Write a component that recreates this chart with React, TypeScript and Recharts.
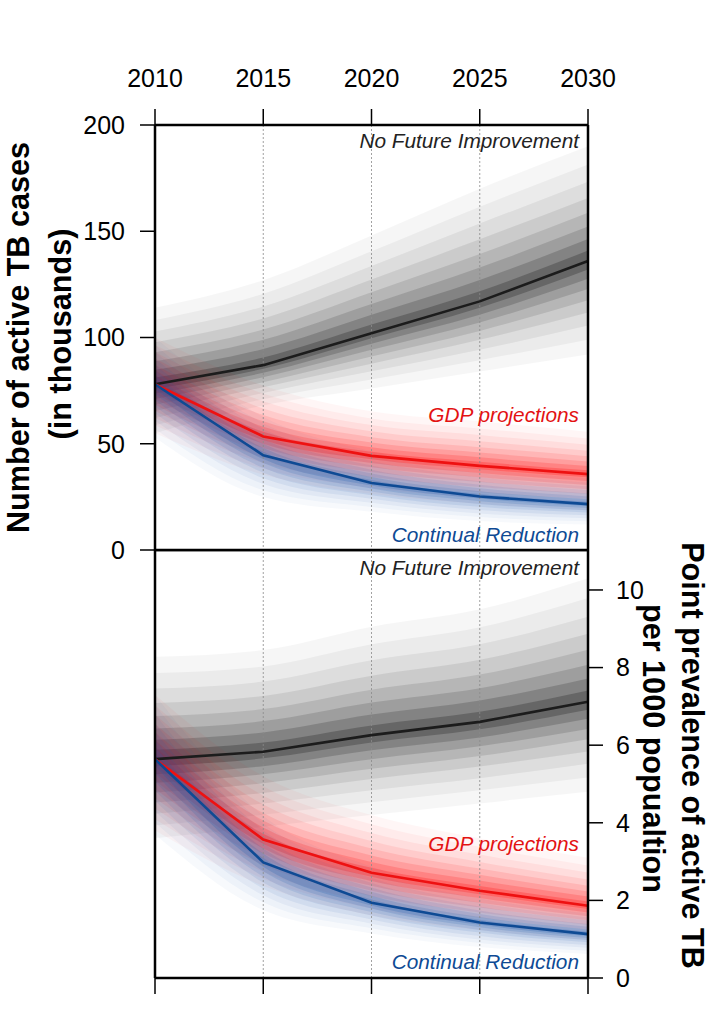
import React from 'react';
import { ComposedChart, Area, Line, XAxis, YAxis, ReferenceLine } from 'recharts';

const years = [2010, 2015, 2020, 2025, 2030];
const xTicks = [2010, 2015, 2020, 2025, 2030];
const gridYears = [2015, 2020, 2025];
const casesTicks = [0, 50, 100, 150, 200];
const prevTicks = [0, 2, 4, 6, 8, 10];

// ---------- Top panel: number of active TB cases (thousands) ----------
// bands listed from outermost to innermost
const casesNoImpMed = [78, 87, 102, 117, 136];
const casesNoImpUp = [
  [114, 127, 148, 170, 190],
  [108.2, 120.6, 140.6, 161.5, 181.4],
  [102.8, 114.6, 133.7, 153.6, 173.3],
  [97.8, 109, 127.3, 146.2, 165.7],
  [93.1, 103.8, 121.3, 139.3, 158.7],
  [88.8, 99, 115.8, 132.9, 152.2],
  [84.8, 94.6, 110.7, 127.1, 146.3],
  [81.2, 90.6, 106.1, 121.8, 140.9],
];
const casesNoImpLo = [
  [55, 68, 76, 84, 92],
  [58.7, 71, 80.2, 89.3, 99],
  [62.1, 73.9, 84.1, 94.2, 105.6],
  [65.4, 76.6, 87.7, 98.9, 111.8],
  [68.3, 79, 91.1, 103.1, 117.5],
  [71.1, 81.3, 94.2, 107.1, 122.8],
  [73.6, 83.4, 97.1, 110.7, 127.6],
  [75.9, 85.3, 99.7, 114, 132],
];
const casesGdpMed = [78, 53.4, 44.3, 39.6, 35.7];
const casesGdpUp = [
  [100, 77.4, 65.3, 60.6, 55.7],
  [96.5, 73.6, 61.9, 57.2, 52.5],
  [93.2, 70, 58.8, 54.1, 49.5],
  [90.1, 66.6, 55.9, 51.2, 46.7],
  [87.2, 63.5, 53.1, 48.4, 44.1],
  [84.6, 60.6, 50.6, 45.9, 41.7],
  [82.2, 58, 48.3, 43.6, 39.5],
  [80, 55.6, 46.2, 41.5, 37.5],
];
const casesGdpLo = [
  [55, 35.4, 26.3, 21.6, 18.7],
  [58.7, 38.3, 29.2, 24.5, 21.4],
  [62.1, 41, 31.9, 27.2, 24],
  [65.4, 43.5, 34.4, 29.7, 26.4],
  [68.3, 45.8, 36.7, 32, 28.6],
  [71.1, 48, 38.9, 34.2, 30.6],
  [73.6, 50, 40.9, 36.2, 32.5],
  [75.9, 51.8, 42.7, 38, 34.2],
];
const casesContMed = [78, 44.6, 31.5, 25.2, 21.6];
const casesContUp = [
  [100, 62.6, 46.5, 38.2, 33.6],
  [96.5, 59.7, 44.1, 36.1, 31.7],
  [93.2, 57, 41.9, 34.2, 29.9],
  [90.1, 54.5, 39.8, 32.4, 28.2],
  [87.2, 52.2, 37.8, 30.7, 26.6],
  [84.6, 50, 36, 29.1, 25.2],
  [82.2, 48, 34.4, 27.7, 23.9],
  [80, 46.2, 32.9, 26.4, 22.7],
];
const casesContLo = [
  [53, 25, 18, 13.6, 12],
  [57, 28.1, 20.2, 15.5, 13.5],
  [60.8, 31.1, 22.2, 17.2, 15],
  [64.3, 33.8, 24.1, 18.8, 16.3],
  [67.5, 36.4, 25.8, 20.3, 17.6],
  [70.5, 38.7, 27.5, 21.7, 18.7],
  [73.3, 40.9, 28.9, 23, 19.8],
  [75.8, 42.8, 30.3, 24.2, 20.7],
];

// ---------- Bottom panel: point prevalence per 1000 population ----------
const prevNoImpMed = [5.64, 5.83, 6.26, 6.6, 7.12];
const prevNoImpUp = [
  [8.28, 8.45, 9.05, 9.5, 10.3],
  [7.86, 8.03, 8.6, 9.04, 9.79],
  [7.46, 7.64, 8.19, 8.6, 9.31],
  [7.09, 7.27, 7.79, 8.2, 8.87],
  [6.75, 6.93, 7.43, 7.82, 8.46],
  [6.43, 6.62, 7.1, 7.47, 8.07],
  [6.14, 6.33, 6.79, 7.15, 7.72],
  [5.88, 6.07, 6.51, 6.86, 7.41],
];
const prevNoImpLo = [
  [3.6, 3.9, 4.2, 4.5, 4.8],
  [3.93, 4.21, 4.53, 4.84, 5.17],
  [4.23, 4.5, 4.84, 5.15, 5.52],
  [4.52, 4.77, 5.13, 5.45, 5.84],
  [4.78, 5.02, 5.39, 5.72, 6.15],
  [5.03, 5.25, 5.64, 5.97, 6.42],
  [5.25, 5.46, 5.87, 6.2, 6.68],
  [5.46, 5.66, 6.07, 6.41, 6.91],
];
const prevGdpMed = [5.64, 3.57, 2.71, 2.25, 1.86];
const prevGdpUp = [
  [7.3, 5.2, 4.2, 3.6, 3.1],
  [7.03, 4.94, 3.96, 3.38, 2.9],
  [6.79, 4.7, 3.74, 3.18, 2.72],
  [6.55, 4.47, 3.53, 2.99, 2.54],
  [6.34, 4.25, 3.34, 2.82, 2.38],
  [6.14, 4.06, 3.16, 2.66, 2.23],
  [5.96, 3.88, 2.99, 2.51, 2.1],
  [5.79, 3.72, 2.84, 2.37, 1.97],
];
const prevGdpLo = [
  [3.8, 2.37, 1.61, 1.23, 0.97],
  [4.09, 2.56, 1.79, 1.39, 1.11],
  [4.37, 2.74, 1.95, 1.55, 1.25],
  [4.63, 2.91, 2.11, 1.69, 1.37],
  [4.87, 3.07, 2.25, 1.82, 1.49],
  [5.09, 3.21, 2.38, 1.94, 1.59],
  [5.29, 3.34, 2.5, 2.06, 1.69],
  [5.47, 3.46, 2.61, 2.16, 1.78],
];
const prevContMed = [5.64, 2.98, 1.94, 1.43, 1.13];
const prevContUp = [
  [7.3, 4.18, 2.87, 2.17, 1.76],
  [7.03, 3.99, 2.72, 2.05, 1.66],
  [6.79, 3.81, 2.58, 1.94, 1.56],
  [6.55, 3.64, 2.45, 1.84, 1.48],
  [6.34, 3.48, 2.33, 1.74, 1.39],
  [6.14, 3.34, 2.22, 1.65, 1.32],
  [5.96, 3.21, 2.12, 1.57, 1.25],
  [5.79, 3.09, 2.02, 1.5, 1.19],
];
const prevContLo = [
  [3.7, 1.75, 1.15, 0.8, 0.62],
  [4.01, 1.95, 1.28, 0.9, 0.7],
  [4.3, 2.13, 1.4, 0.99, 0.78],
  [4.57, 2.3, 1.51, 1.08, 0.85],
  [4.83, 2.46, 1.61, 1.17, 0.92],
  [5.06, 2.61, 1.7, 1.24, 0.98],
  [5.27, 2.75, 1.79, 1.31, 1.03],
  [5.47, 2.87, 1.87, 1.37, 1.08],
];

// ---------- styles ----------
const FONT = '"Liberation Sans", Arial, Helvetica, sans-serif';
const bandOpacity = [0.035, 0.045, 0.06, 0.08, 0.1, 0.13, 0.17, 0.22];
const scenarios = [
  { key: 'noimp', fill: '#000000', line: '#1c1c1c' },
  { key: 'gdp', fill: '#ff0000', line: '#ee1111' },
  { key: 'cont', fill: '#1c5cae', line: '#0e4a94' },
];

type Series = { key: string; med: number[]; up: number[][]; lo: number[][] };

function buildRows(series: Series[]) {
  return years.map((year, i) => {
    const r: any = { year };
    series.forEach((s) => {
      r[s.key + 'Med'] = s.med[i];
      s.up.forEach((u, k) => {
        r[s.key + 'B' + k] = [s.lo[k][i], u[i]];
      });
    });
    return r;
  });
}

const topRows = buildRows([
  { key: 'noimp', med: casesNoImpMed, up: casesNoImpUp, lo: casesNoImpLo },
  { key: 'gdp', med: casesGdpMed, up: casesGdpUp, lo: casesGdpLo },
  { key: 'cont', med: casesContMed, up: casesContUp, lo: casesContLo },
]);
const bottomRows = buildRows([
  { key: 'noimp', med: prevNoImpMed, up: prevNoImpUp, lo: prevNoImpLo },
  { key: 'gdp', med: prevGdpMed, up: prevGdpUp, lo: prevGdpLo },
  { key: 'cont', med: prevContMed, up: prevContUp, lo: prevContLo },
]);

const tickStyle = { fontFamily: FONT, fontSize: 25, fill: '#000' };
const axisLineStyle = { stroke: '#000', strokeWidth: 2.5 };
const tickLineStyle = { stroke: '#000', strokeWidth: 1.5 };

function fanElements() {
  const out: any[] = [];
  scenarios.forEach((s) => {
    bandOpacity.forEach((op, k) => {
      out.push(
        <Area
          key={s.key + 'B' + k}
          dataKey={s.key + 'B' + k}
          type="monotone"
          stroke="none"
          fill={s.fill}
          fillOpacity={op}
          isAnimationActive={false}
          activeDot={false}
          dot={false}
        />
      );
    });
  });
  return out;
}

function lineElements() {
  return scenarios.map((s) => (
    <Line
      key={s.key + 'Med'}
      dataKey={s.key + 'Med'}
      type="linear"
      stroke={s.line}
      strokeWidth={2.6}
      dot={false}
      activeDot={false}
      isAnimationActive={false}
    />
  ));
}

function gridElements() {
  return gridYears.map((y) => (
    <ReferenceLine key={'g' + y} x={y} stroke="#8a8a8a" strokeWidth={0.8} strokeDasharray="2 2" />
  ));
}

function TopPanel() {
  return (
    <ComposedChart
      width={712}
      height={580}
      data={topRows}
      margin={{ top: 65, right: 124, bottom: 30, left: 95 }}
    >
      {fanElements()}
      {gridElements()}
      {lineElements()}
      <ReferenceLine x={2030} stroke="#000" strokeWidth={2.5} />
      <ReferenceLine y={0} stroke="#000" strokeWidth={2.5} />
      <XAxis
        dataKey="year"
        type="number"
        domain={[2010, 2030]}
        ticks={xTicks}
        orientation="top"
        height={60}
        tickSize={16}
        tickMargin={22}
        tick={tickStyle}
        axisLine={axisLineStyle}
        tickLine={tickLineStyle}
        interval={0}
      />
      <YAxis
        type="number"
        domain={[0, 200]}
        ticks={casesTicks}
        orientation="left"
        width={60}
        tickSize={15}
        tickMargin={15}
        tick={tickStyle}
        axisLine={axisLineStyle}
        tickLine={tickLineStyle}
        interval={0}
      />
    </ComposedChart>
  );
}

function BottomPanel() {
  return (
    <ComposedChart
      width={712}
      height={465}
      data={bottomRows}
      margin={{ top: 0, right: 64, bottom: 0, left: 155 }}
    >
      {fanElements()}
      {gridElements()}
      {lineElements()}
      <ReferenceLine x={2010} stroke="#000" strokeWidth={2.5} />
      <ReferenceLine y={11.03} stroke="#000" strokeWidth={2.5} />
      <XAxis
        dataKey="year"
        type="number"
        domain={[2010, 2030]}
        ticks={xTicks}
        orientation="bottom"
        height={37}
        tickSize={16}
        tickFormatter={() => ''}
        tick={tickStyle}
        axisLine={axisLineStyle}
        tickLine={tickLineStyle}
        interval={0}
      />
      <YAxis
        type="number"
        domain={[0, 11.03]}
        ticks={prevTicks}
        orientation="right"
        width={60}
        tickSize={15}
        tickMargin={13}
        tick={tickStyle}
        axisLine={axisLineStyle}
        tickLine={tickLineStyle}
        interval={0}
      />
    </ComposedChart>
  );
}

const annText = { fontFamily: FONT, fontSize: 20.8, fontStyle: 'italic' as const };
const titleText = { fontFamily: FONT, fontSize: 30.6, fontWeight: 'bold' as const, fill: '#000' };

export default function App() {
  return (
    <div
      style={{
        position: 'absolute',
        left: 0,
        top: 0,
        width: 712,
        height: 1015,
        background: '#fff',
        overflow: 'hidden',
        fontFamily: FONT,
      }}
    >
      <div style={{ position: 'absolute', left: 0, top: 0 }}>
        <TopPanel />
      </div>
      <div style={{ position: 'absolute', left: 0, top: 550 }}>
        <BottomPanel />
      </div>
      <svg
        width={712}
        height={1015}
        style={{ position: 'absolute', left: 0, top: 0, pointerEvents: 'none' }}
      >
        <text x={579} y={148} textAnchor="end" fill="#222" style={annText}>No Future Improvement</text>
        <text x={579} y={422} textAnchor="end" fill="#e31212" style={annText}>GDP projections</text>
        <text x={579} y={542} textAnchor="end" fill="#0e4a94" style={annText}>Continual Reduction</text>
        <text x={579} y={575} textAnchor="end" fill="#222" style={annText}>No Future Improvement</text>
        <text x={579} y={851} textAnchor="end" fill="#e31212" style={annText}>GDP projections</text>
        <text x={579} y={969} textAnchor="end" fill="#0e4a94" style={annText}>Continual Reduction</text>

        <text transform="translate(29,337.5) rotate(-90)" textAnchor="middle" style={titleText}>
          Number of active TB cases
        </text>
        <text transform="translate(71,334) rotate(-90)" textAnchor="middle" style={titleText}>
          (in thousands)
        </text>
        <text transform="translate(682,755.5) rotate(90)" textAnchor="middle" style={titleText}>
          Point prevalence of active TB
        </text>
        <text transform="translate(643,748.5) rotate(90)" textAnchor="middle" style={titleText}>
          per 1000 popualtion
        </text>
      </svg>
    </div>
  );
}
